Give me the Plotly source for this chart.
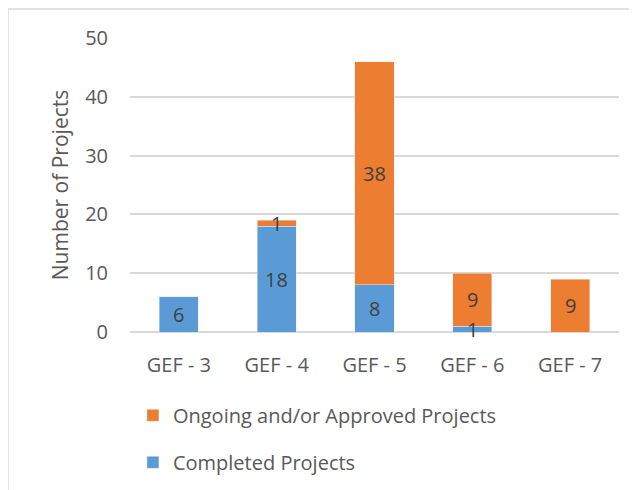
import plotly.graph_objects as go

categories = ["GEF - 3", "GEF - 4", "GEF - 5", "GEF - 6", "GEF - 7"]
completed = [6, 18, 8, 1, 0]
ongoing = [0, 1, 38, 9, 9]

BLUE = "#5B9BD5"
ORANGE = "#ED7D31"
GREY_TEXT = "#595959"
LABEL_TEXT = "#404040"
FONT = "Open Sans"

fig = go.Figure()
fig.add_trace(go.Bar(x=categories, y=completed, name="Completed Projects",
                     marker_color=BLUE, legendgroup="c", legendrank=2, width=0.4))
fig.add_trace(go.Bar(x=categories, y=ongoing, name="Ongoing and/or Approved Projects",
                     marker_color=ORANGE, legendgroup="o", legendrank=1, width=0.4))

# value labels in the middle of each segment (annotations so tiny segments aren't clipped)
for cat, c, o in zip(categories, completed, ongoing):
    if c:
        fig.add_annotation(x=cat, y=c / 2, text=str(c), showarrow=False,
                           font=dict(family=FONT, size=20, color=LABEL_TEXT))
    if o:
        fig.add_annotation(x=cat, y=c + o / 2, text=str(o), showarrow=False,
                           font=dict(family=FONT, size=20, color=LABEL_TEXT))

# thin frame seen along the top and left edges of the picture
frame = dict(color="#d9d9d9", width=1.5)
fig.add_shape(type="line", xref="paper", yref="paper",
              x0=-0.2495, x1=1.1, y0=1.0986, y1=1.0986, line=frame)
fig.add_shape(type="line", xref="paper", yref="paper",
              x0=-0.2495, x1=-0.2495, y0=1.0986, y1=-0.6, line=frame)

fig.update_layout(
    width=637,
    height=490,
    barmode="stack",
    plot_bgcolor="white",
    paper_bgcolor="white",
    margin=dict(l=122, r=26, t=30, b=166, autoexpand=False),
    font=dict(family=FONT, size=20, color=GREY_TEXT),
    showlegend=True,
    legend=dict(
        x=0.006,
        y=-0.217,
        xanchor="left",
        yanchor="top",
        traceorder="grouped",
        tracegroupgap=18,
        font=dict(family=FONT, size=20, color=GREY_TEXT),
        itemwidth=30,
    ),
    xaxis=dict(
        showgrid=False,
        ticks="outside",
        ticklen=15,
        tickcolor="rgba(0,0,0,0)",
        showline=False,
        tickfont=dict(size=20),
    ),
    yaxis=dict(
        range=[0, 50],
        dtick=10,
        gridcolor="#d9d9d9",
        gridwidth=1.5,
        zeroline=True,
        zerolinecolor="#d9d9d9",
        zerolinewidth=1.5,
        ticks="outside",
        ticklen=17,
        tickcolor="rgba(0,0,0,0)",
        tickfont=dict(size=20),
        title=dict(text="Number of Projects", font=dict(size=21, color=GREY_TEXT), standoff=10),
    ),
)

fig.write_html("out.html")
